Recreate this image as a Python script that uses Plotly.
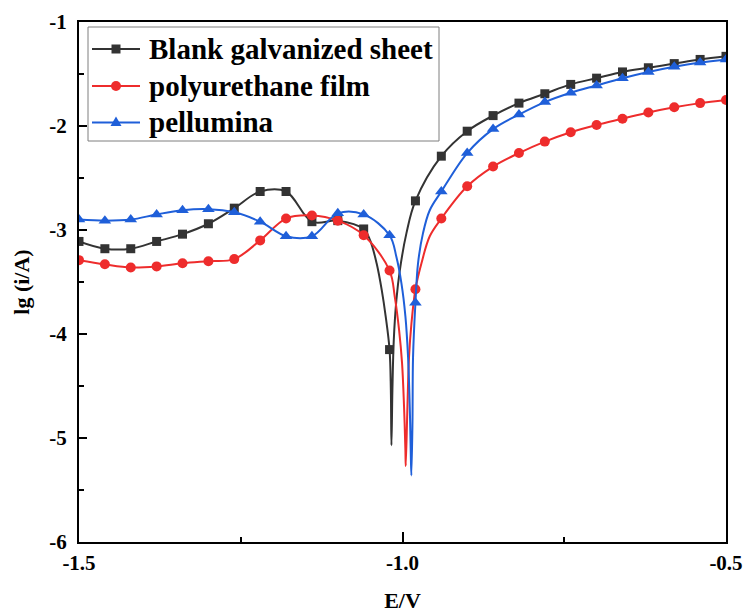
import plotly.graph_objects as go

# Potential grid shared by the marked points (V)
E_grid = [-1.50, -1.46, -1.42, -1.38, -1.34, -1.30, -1.26, -1.22, -1.18, -1.14,
          -1.10, -1.06, -1.02, -0.98, -0.94, -0.90, -0.86, -0.82, -0.78, -0.74,
          -0.70, -0.66, -0.62, -0.58, -0.54, -0.50]

# lg(i/A) at the marked points
blank_grid = [-3.11, -3.18, -3.18, -3.11, -3.04, -2.94, -2.79, -2.63, -2.63, -2.92,
              -2.91, -2.99, -4.15, -2.72, -2.29, -2.05, -1.90, -1.78, -1.69, -1.60,
              -1.54, -1.48, -1.44, -1.40, -1.36, -1.33]
pu_grid = [-3.29, -3.33, -3.36, -3.35, -3.32, -3.30, -3.28, -3.10, -2.89, -2.86,
           -2.91, -3.05, -3.39, -3.57, -2.89, -2.58, -2.39, -2.26, -2.15, -2.06,
           -1.99, -1.93, -1.87, -1.82, -1.78, -1.75]
pel_grid = [-2.90, -2.91, -2.90, -2.85, -2.81, -2.80, -2.83, -2.92, -3.06, -3.06,
            -2.84, -2.85, -3.05, -3.70, -2.63, -2.26, -2.03, -1.89, -1.77, -1.68,
            -1.61, -1.54, -1.48, -1.43, -1.39, -1.36]

# Additional measured points around the corrosion potential (no markers)
blank_dip_E = [-1.050, -1.040, -1.032, -1.026, -1.018, -1.0171, -1.0156, -1.0135, -1.0094, -1.0042, -0.9939]
blank_dip_v = [-3.10, -3.32, -3.58, -3.83, -4.54, -5.07, -4.54, -4.06, -3.67, -3.39, -3.03]

pu_dip_E = [-1.012, -1.0053, -1.0007, -0.9976, -0.9955, -0.9950, -0.9924, -0.9899, -0.9862, -0.9707, -0.9579]
pu_dip_v = [-3.64, -3.96, -4.28, -4.70, -5.12, -5.27, -4.70, -4.22, -3.90, -3.32, -3.06]

pel_dip_E = [-1.0094, -1.0017, -0.9955, -0.9914, -0.9888, -0.9873, -0.9863, -0.9846, -0.9837, -0.9760, -0.9683, -0.9579]
pel_dip_v = [-3.26, -3.51, -3.83, -4.22, -4.70, -5.12, -5.36, -4.86, -4.22, -3.32, -3.03, -2.81]

names = ["Blank galvanized sheet", "polyurethane film", "pellumina"]
colors = ["#333333", "#EE2C2C", "#1F5FD9"]
symbols = ["square", "circle", "triangle-up"]
marker_sizes = [9, 10, 11]

x_tickvals = [-1.5, -1.0, -0.5]
x_ticktext = ["-1.5", "-1.0", "-0.5"]
y_tickvals = [-6, -5, -4, -3, -2, -1]
y_ticktext = ["-6", "-5", "-4", "-3", "-2", "-1"]

FONT = "Liberation Serif, Times New Roman, serif"

# figure geometry (pixels)
W, H = 746, 613
ML, MR, MT, MB = 79, 20, 22, 71
PW, PH = W - ML - MR, H - MT - MB


def px_x(px):
    return (px - ML) / PW


def px_y(py):
    return (H - MB - py) / PH


def merged(grid_e, grid_v, extra_e, extra_v):
    pts = sorted(zip(list(grid_e) + list(extra_e), list(grid_v) + list(extra_v)))
    return [p[0] for p in pts], [p[1] for p in pts]


series = [
    (blank_grid, blank_dip_E, blank_dip_v),
    (pu_grid, pu_dip_E, pu_dip_v),
    (pel_grid, pel_dip_E, pel_dip_v),
]

fig = go.Figure()
for (gv, de, dv), name, col, sym, ms in zip(series, names, colors, symbols, marker_sizes):
    xs, ys = merged(E_grid, gv, de, dv)
    fig.add_trace(go.Scatter(
        x=xs, y=ys, mode="lines", showlegend=False, hoverinfo="skip",
        line=dict(color=col, width=2, shape="spline", smoothing=1.0),
    ))
    fig.add_trace(go.Scatter(
        x=E_grid, y=gv, mode="markers", showlegend=False, name=name,
        marker=dict(color=col, symbol=sym, size=ms, line=dict(width=0)),
    ))

# Legend panel: frame, line samples, symbol samples and labels
shapes = [dict(type="rect", xref="paper", yref="paper",
               x0=px_x(88), x1=px_x(439), y0=px_y(141), y1=px_y(27),
               line=dict(color="#7f7f7f", width=1), fillcolor="rgba(0,0,0,0)", layer="above")]
annotations = []
row_y = [49, 86, 122.5]
for name, col, sym, ry in zip(names, colors, symbols, row_y):
    shapes.append(dict(type="line", xref="paper", yref="paper",
                       x0=px_x(92), x1=px_x(140), y0=px_y(ry), y1=px_y(ry),
                       line=dict(color=col, width=2), layer="above"))
    anchor = dict(xref="paper", yref="paper", xsizemode="pixel", ysizemode="pixel",
                  xanchor=px_x(116), yanchor=px_y(ry), line=dict(width=0),
                  fillcolor=col, layer="above")
    if sym == "square":
        shapes.append(dict(type="rect", x0=-4.5, x1=4.5, y0=-4.5, y1=4.5, **anchor))
    elif sym == "circle":
        shapes.append(dict(type="circle", x0=-5, x1=5, y0=-5, y1=5, **anchor))
    else:
        shapes.append(dict(type="path", path="M-5.5,-3.5 L5.5,-3.5 L0,6 Z", **anchor))
    annotations.append(dict(
        text=name, xref="paper", yref="paper", x=px_x(147), y=px_y(ry),
        xanchor="left", yanchor="middle", showarrow=False,
        font=dict(family=FONT, size=29, color="black", weight="bold"),
    ))

axis_common = dict(
    showline=True, linecolor="black", linewidth=2, mirror=True,
    ticks="inside", tickcolor="black", tickwidth=2,
    showgrid=False, zeroline=False, automargin=False,
    tickfont=dict(family=FONT, size=21, color="black", weight="bold"),
)

fig.update_layout(
    width=W, height=H,
    margin=dict(l=ML, r=MR, t=MT, b=MB),
    paper_bgcolor="white", plot_bgcolor="white",
    font=dict(family=FONT, color="black"),
    showlegend=False,
    shapes=shapes, annotations=annotations,
    xaxis=dict(
        range=[-1.5, -0.5], tickvals=x_tickvals, ticktext=x_ticktext, ticklen=10,
        minor=dict(ticks="inside", dtick=0.25, tick0=-1.5, ticklen=5, tickwidth=2, tickcolor="black"),
        ticklabelstandoff=1,
        title=dict(text="E/V", font=dict(family=FONT, size=22, color="black", weight="bold"), standoff=30),
        **axis_common,
    ),
    yaxis=dict(
        range=[-6, -1], tickvals=y_tickvals, ticktext=y_ticktext, ticklen=8,
        minor=dict(ticks="inside", dtick=0.5, tick0=-6, ticklen=5, tickwidth=2, tickcolor="black"),
        ticklabelstandoff=6,
        title=dict(text="lg (i/A)", font=dict(family=FONT, size=22, color="black", weight="bold"), standoff=14),
        **axis_common,
    ),
)

fig.write_html("out.html")
